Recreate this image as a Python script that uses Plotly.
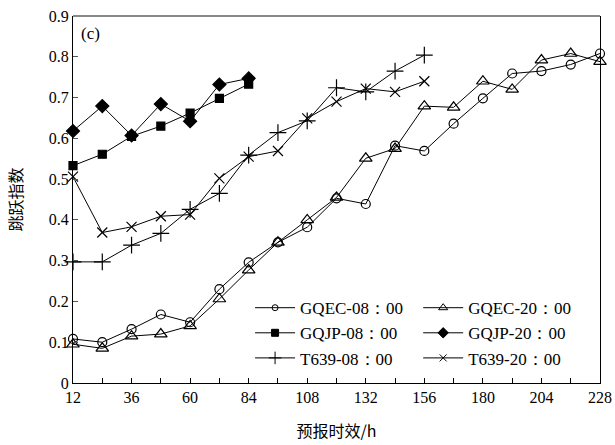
import plotly.graph_objects as go

hours = [12, 24, 36, 48, 60, 72, 84, 96, 108, 120, 132, 144, 156, 168, 180, 192, 204, 216, 228]
gqec_08 = [0.108, 0.100, 0.132, 0.168, 0.149, 0.230, 0.296, 0.345, 0.382, 0.453, 0.439, 0.582, 0.569,
           0.636, 0.698, 0.759, 0.765, 0.781, 0.808]
gqec_20 = [0.095, 0.085, 0.115, 0.120, 0.140, 0.206, 0.277, 0.345, 0.400, 0.455, 0.551, 0.575, 0.679,
           0.676, 0.740, 0.720, 0.792, 0.808, 0.788]
gqjp_08 = [0.533, 0.561, 0.605, 0.630, 0.662, 0.698, 0.733]
gqjp_20 = [0.618, 0.679, 0.607, 0.684, 0.642, 0.732, 0.747]
t639_08 = [0.297, 0.297, 0.338, 0.367, 0.426, 0.465, 0.559, 0.614, 0.643, 0.724, 0.714, 0.765, 0.804]
t639_20 = [0.506, 0.369, 0.383, 0.409, 0.413, 0.502, 0.555, 0.569, 0.649, 0.690, 0.722, 0.714, 0.740]

x_ticks = list(range(12, 229, 12))
x_ticktext = [str(v) if (v - 12) % 24 == 0 else "" for v in x_ticks]
y_ticks = [0, 0.1, 0.2, 0.3, 0.4, 0.5, 0.6, 0.7, 0.8, 0.9]
y_ticktext = ["0", "0.1", "0.2", "0.3", "0.4", "0.5", "0.6", "0.7", "0.8", "0.9"]

SERIF = "Liberation Serif, Times New Roman, serif"
CJK = "Noto Sans CJK SC"

# name, x, y, symbol, plot marker size, legend marker size, legend id
series = [
    ("GQEC-08：00", hours, gqec_08, "circle-open", 9, 6, "legend"),
    ("GQEC-20：00", hours, gqec_20, "triangle-up-open", 11, 8, "legend2"),
    ("GQJP-08：00", hours[:len(gqjp_08)], gqjp_08, "square", 8, 7, "legend"),
    ("GQJP-20：00", hours[:len(gqjp_20)], gqjp_20, "diamond", 10, 8, "legend2"),
    ("T639-08：00", hours[:len(t639_08)], t639_08, "cross-thin-open", 12, 9, "legend"),
    ("T639-20：00", hours[:len(t639_20)], t639_20, "x-thin-open", 10, 7, "legend2"),
]

fig = go.Figure()
for name, xs, ys, sym, size, lsize, leg in series:
    fig.add_trace(go.Scatter(
        x=xs, y=ys, name=name, mode="lines+markers",
        line=dict(color="black", width=1),
        marker=dict(symbol=sym, size=size, color="black",
                    line=dict(color="black", width=1.2)),
        cliponaxis=False, showlegend=False,
    ))
for name, xs, ys, sym, size, lsize, leg in series:
    fig.add_trace(go.Scatter(
        x=[None], y=[None], name=name, mode="lines+markers",
        line=dict(color="black", width=1),
        marker=dict(symbol=sym, size=lsize, color="black",
                    line=dict(color="black", width=1)),
        showlegend=True, legend=leg,
    ))

legend_common = dict(
    font=dict(family=SERIF, size=17, color="black"),
    bgcolor="rgba(0,0,0,0)", borderwidth=0, itemwidth=40,
    orientation="v", yanchor="top", xanchor="left", tracegroupgap=0,
)
fig.update_layout(
    width=615, height=445,
    margin=dict(l=73, r=15, t=16, b=62, autoexpand=False),
    paper_bgcolor="white", plot_bgcolor="white",
    font=dict(family=SERIF, size=16, color="black"),
    showlegend=True,
    legend=dict(x=0.336, y=0.253, **legend_common),
    legend2=dict(x=0.655, y=0.253, **legend_common),
    xaxis=dict(
        range=[12, 228], tickmode="array", tickvals=x_ticks, ticktext=x_ticktext,
        ticks="inside", ticklen=5, tickcolor="black", tickwidth=1,
        showline=True, linecolor="black", linewidth=1, showgrid=False, zeroline=False,
        tickfont=dict(family=SERIF, size=16), automargin=False,
        title=dict(text="预报时效/h", font=dict(family=CJK, size=16), standoff=20),
    ),
    yaxis=dict(
        range=[0, 0.9], tickmode="array", tickvals=y_ticks, ticktext=y_ticktext,
        ticks="inside", ticklen=5, tickcolor="#555", tickwidth=1,
        showline=True, linecolor="black", linewidth=1, mirror=True,
        showgrid=False, zeroline=False,
        tickfont=dict(family=SERIF, size=16), automargin=False,
        title=dict(text="跳跃指数", font=dict(family=CJK, size=16), standoff=22),
    ),
    shapes=[dict(type="line", xref="paper", yref="paper", x0=0, x1=1, y0=1, y1=1,
                 line=dict(color="#888", width=2))],
    annotations=[dict(text="(c)", xref="paper", yref="paper", x=0.012, y=0.985,
                      xanchor="left", yanchor="top", showarrow=False,
                      font=dict(family=SERIF, size=17, color="black"))],
)

# remove the browser's default 8px body margin so the figure sits at the page origin
fig.write_html("out.html", config={"displayModeBar": False},
               post_script="document.body.style.margin='0';")
